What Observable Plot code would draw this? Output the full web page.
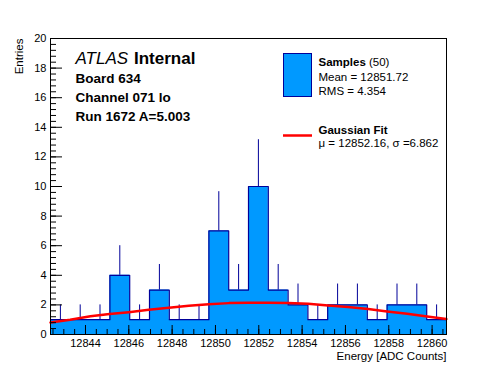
<!DOCTYPE html>
<html>
<head>
<meta charset="utf-8">
<script src="https://cdn.jsdelivr.net/npm/d3@7"></script>
<script src="https://cdn.jsdelivr.net/npm/@observablehq/plot@0.6"></script>
<style>
  html, body { margin: 0; padding: 0; background: white; }
</style>
</head>
<body>
<div id="chart"></div>
<script>
// ---- data ----
const xMin = 12842.385;      // lower edge of first bin
const binWidth = 0.914;      // bin width (20 bins)
const counts = [1, 1, 1, 4, 1, 3, 1, 1, 7, 3, 10, 3, 2, 1, 2, 2, 1, 2, 2, 1];
const errors = [1, 1, 1, 2, 1, 1.73, 1, 1, 2.65, 1.73, 3.16, 1.73, 1.41, 1, 1.41, 1.41, 1, 1.41, 1.41, 1];
const fitX = [12842.385, 12843.29, 12844.23, 12845.11, 12846.0, 12846.92, 12847.85, 12848.77, 12849.69, 12850.62,
              12851.54, 12852.43, 12853.35, 12854.28, 12855.2, 12856.12, 12857.05, 12857.92, 12858.85, 12859.77, 12860.66];
const fitY = [0.81, 1.0, 1.24, 1.38, 1.51, 1.67, 1.81, 1.94, 2.05, 2.12,
              2.14, 2.14, 2.12, 2.08, 1.96, 1.85, 1.72, 1.56, 1.40, 1.22, 1.04];
const xTickLabels = [12844, 12846, 12848, 12850, 12852, 12854, 12856, 12858, 12860];
const yTickLabels = [0, 2, 4, 6, 8, 10, 12, 14, 16, 18, 20];
const infoLines = ["Board 634", "Channel 071 lo", "Run 1672 A=5.003"];
const legendSamples = ["Samples", "(50)", "Mean = 12851.72", "RMS = 4.354"];
const legendFit = ["Gaussian Fit", "μ = 12852.16, σ =6.862"];

// ---- derived tables ----
const nBins = counts.length;
const xMax = xMin + nBins * binWidth;
const bins = counts.map((c, i) => ({center: xMin + (i + 0.5) * binWidth, count: c, err: errors[i]}));
const steps = counts.map((c, i) => ({x: xMin + i * binWidth, y: c}));
steps.push({x: xMax, y: counts[nBins - 1]});
const fit = fitX.map((x, i) => ({x, y: fitY[i]}));
const xMinor = d3.range(12842.5, 12860.6, 0.5);
const yMinor = d3.range(0, 20.01, 0.4);

const W = 496, H = 372, mL = 50, mR = 50, mT = 38, mB = 38;
const pw = W - mL - mR, ph = H - mT - mB;
const FILL = "#0099ff", NAVY = "#000099";
const FONT = "'Liberation Sans', Arial, Helvetica, sans-serif";

const txt = (s, o) => Plot.text([s], {text: d => d, frameAnchor: "top-left", textAnchor: "start", lineAnchor: "bottom", fill: "black", ...o});

const chart = Plot.plot({
  width: W, height: H,
  marginLeft: mL, marginRight: mR, marginTop: mT, marginBottom: mB,
  x: {domain: [xMin, xMax]},
  y: {domain: [0, 20]},
  style: {fontFamily: FONT, fontSize: "11px", background: "white", color: "black"},
  marks: [
    Plot.areaY(steps, {x: "x", y: "y", curve: "step-after", fill: FILL}),
    Plot.ruleX(bins, {x: "center", y1: "count", y2: d => d.count + d.err, stroke: NAVY, strokeWidth: 1}),
    Plot.line(steps, {x: "x", y: "y", curve: "step-after", stroke: NAVY, strokeWidth: 1.2}),
    Plot.line(fit, {x: "x", y: "y", stroke: "#ff0000", strokeWidth: 2.5}),
    Plot.frame({stroke: "black", strokeWidth: 1}),
    Plot.tickY(yTickLabels, {y: d => d, insetRight: pw - 12, stroke: "black"}),
    Plot.tickY(yMinor, {y: d => d, insetRight: pw - 6, stroke: "black"}),
    Plot.tickX(xTickLabels, {x: d => d, insetTop: ph - 9, stroke: "black"}),
    Plot.tickX(xMinor, {x: d => d, insetTop: ph - 5, stroke: "black"}),
    Plot.axisX({ticks: xTickLabels, tickSize: 0, tickPadding: 5, tickFormat: "d", label: null, fontSize: 11}),
    Plot.axisY({ticks: yTickLabels, tickSize: 0, tickPadding: 4, tickFormat: "d", label: null, fontSize: 11}),
    // axis titles
    Plot.text(["Energy [ADC Counts]"], {text: d => d, frameAnchor: "bottom-right", textAnchor: "end", lineAnchor: "bottom", dy: 25, fontSize: 11.5}),
    Plot.text(["Entries"], {text: d => d, frameAnchor: "top-left", textAnchor: "end", lineAnchor: "middle", rotate: -90, dx: -31, fontSize: 11.5}),
    // ATLAS label
    txt("ATLAS", {dx: 25, dy: 25, fontSize: 17, fontStyle: "italic"}),
    txt("Internal", {dx: 83.5, dy: 25, fontSize: 17, fontWeight: "bold"}),
    txt(infoLines[0], {dx: 25, dy: 44, fontSize: 13.5, fontWeight: "bold"}),
    txt(infoLines[1], {dx: 25, dy: 63, fontSize: 13.5, fontWeight: "bold"}),
    txt(infoLines[2], {dx: 25, dy: 82, fontSize: 13.5, fontWeight: "bold"}),
    // legend texts
    txt(legendSamples[0], {dx: 268, dy: 27, fontSize: 11.5, fontWeight: "bold"}),
    txt(legendSamples[1], {dx: 318.5, dy: 27, fontSize: 11.5}),
    txt(legendSamples[2], {dx: 268, dy: 42, fontSize: 11.5}),
    txt(legendSamples[3], {dx: 268, dy: 56, fontSize: 11.5}),
    txt(legendFit[0], {dx: 268, dy: 95, fontSize: 11.5, fontWeight: "bold"}),
    txt(legendFit[1], {dx: 268, dy: 108, fontSize: 11.5})
  ]
});

// legend swatches
const svg = d3.select(chart);
svg.append("rect").attr("x", 283.5).attr("y", 53.5).attr("width", 28).attr("height", 43)
  .attr("fill", FILL).attr("stroke", NAVY).attr("stroke-width", 1);
svg.append("line").attr("x1", 283).attr("x2", 312).attr("y1", 135.5).attr("y2", 135.5)
  .attr("stroke", "#ff0000").attr("stroke-width", 2.5);

document.getElementById("chart").appendChild(chart);
</script>
</body>
</html>
